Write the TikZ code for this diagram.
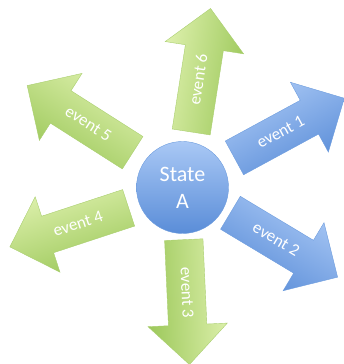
\documentclass[tikz,border=0pt]{standalone}
\usepackage{fontspec}
\setmainfont{Carlito}
\usepackage{xcolor}
\usepackage{tikz}
\usetikzlibrary{shapes.arrows}
\usetikzlibrary{positioning}

\definecolor{bluelt}{HTML}{A9C8F5}
\definecolor{bluedk}{HTML}{5A8DD8}
\definecolor{blueln}{HTML}{6E9DDE}
\definecolor{greenlt}{HTML}{DDF0AC}
\definecolor{greendk}{HTML}{9CC85A}
\definecolor{greenln}{HTML}{AACF70}

\begin{document}
\begin{tikzpicture}[x=1pt,y=1pt,thin]
  \tikzstyle{state}=[circle, draw=blueln, top color=bluelt, bottom color=bluedk,
                     minimum size=92pt, inner sep=0pt, align=center, text=white,
                     font=\fontsize{22}{27}\selectfont]
  \tikzstyle{evt}=[single arrow, minimum height=125pt, single arrow head extend=20.5pt,
                   text height=12pt, text depth=3pt, inner ysep=11.5pt, inner xsep=4pt,
                   text=white, font=\fontsize{17}{20}\selectfont, anchor=tail]
  \tikzstyle{bluearr}=[evt, draw=blueln, top color=bluelt, bottom color=bluedk]
  \tikzstyle{greenarr}=[evt, draw=greenln, top color=greenlt, bottom color=greendk]
  \useasboundingbox (0,0) rectangle (343,364);
  \node[state] (A) at (182.5,176.5) {State\\A};
  % shading turned along with each arrow
  \node[bluearr, rotate=28.5, shading angle=28.5] (e1)
       at ([shift={(29.7:59.6)}]A.center) {event 1};
  \node[bluearr, rotate=-31, shading angle=-31] (e2)
       at ([shift={(-27.8:54)}]A.center) {event 2};
  \node[greenarr, rotate=-87.4, shading angle=-87.4] (e3)
       at ([shift={(-88.6:52)}]A.center) {event 3};
  \node[greenarr, rotate=18.2, shading angle=18.2, shape border rotate=180] (e4)
       at ([shift={(200.7:57.4)}]A.center) {event 4};
  \node[greenarr, rotate=-32.5, shading angle=-32.5, shape border rotate=180] (e5)
       at ([shift={(145.1:60.6)}]A.center) {event 5};
  \node[greenarr, rotate=81.1, shading angle=81.1] (e6)
       at ([shift={(81.1:56)}]A.center) {event 6};
\end{tikzpicture}
\end{document}
